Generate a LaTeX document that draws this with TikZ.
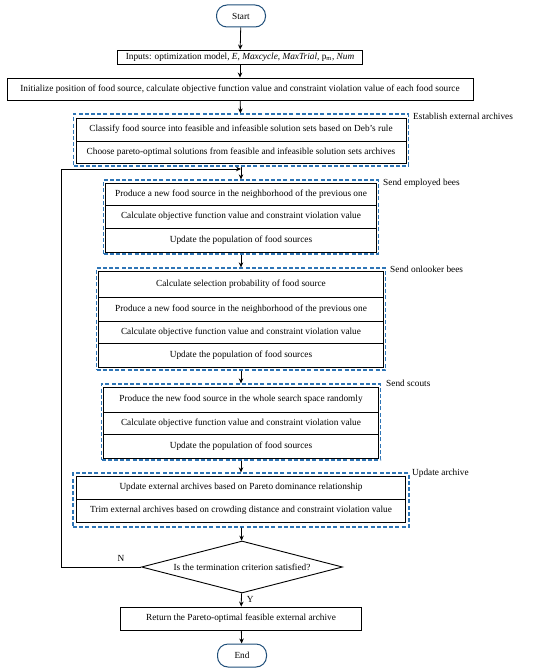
\documentclass[tikz,border=0pt]{standalone}
\usepackage{fontspec}
\setmainfont{Liberation Serif}
\usetikzlibrary{shapes.geometric,arrows.meta}
\definecolor{termblue}{HTML}{1F4E79}
\definecolor{dashblue}{HTML}{2E75B6}
\begin{document}
\begin{tikzpicture}[x=1pt,y=-1pt,
  every node/.style={font=\fontsize{9.3}{11}\selectfont, inner sep=0pt},
  rowbox/.style={draw=black, line width=0.9pt, rectangle, align=center},
  dashbox/.style={draw=dashblue, line width=1.25pt, dash pattern=on 4pt off 2.2pt, rectangle},
  term/.style={draw=termblue, line width=1pt, rectangle, rounded corners=10.5pt, minimum width=49pt, minimum height=22pt},
  grp/.style={anchor=west},
  arr/.style={line width=0.8pt, -{Stealth[length=5pt,width=4.5pt]}},
  ln/.style={line width=0.8pt}
]
\useasboundingbox (0,0) rectangle (550,671);
\node[term] (start) at (241,16) {Start};
\node[rowbox, minimum width=245pt, minimum height=14pt] (inp) at (240,57) {Inputs: optimization model, \textit{E}, \textit{Maxcycle}, \textit{MaxTrial}, p\textsubscript{m}, \textit{Num}};
\node[rowbox, minimum width=466pt, minimum height=22pt] (init) at (240,89) {Initialize position of food source, calculate objective function value and constraint violation value of each food source};

% Establish external archives
\node[dashbox, minimum width=335pt, minimum height=52pt] (ea) at (241,140) {};
\node[rowbox, minimum width=330pt, minimum height=23pt] (ea1) at (241,129.5) {Classify food source into feasible and infeasible solution sets based on Deb’s rule};
\node[rowbox, minimum width=330pt, minimum height=22pt] (ea2) at (241,152) {Choose pareto-optimal solutions from feasible and infeasible solution sets archives};
\node[grp] (eal) at (413,116) {Establish external archives};

% Employed bees
\node[dashbox, minimum width=275pt, minimum height=74pt] (emp) at (241,217) {};
\node[rowbox, minimum width=271pt, minimum height=22pt] (emp1) at (241,194) {Produce a new food source in the neighborhood of the previous one};
\node[rowbox, minimum width=271pt, minimum height=23pt] (emp2) at (241,216.5) {Calculate objective function value and constraint violation value};
\node[rowbox, minimum width=271pt, minimum height=24pt] (emp3) at (241,240) {Update the population of food sources};
\node[grp] (empl) at (383,183) {Send employed bees};

% Onlooker bees
\node[dashbox, minimum width=289pt, minimum height=102pt] (onl) at (241,319) {};
\node[rowbox, minimum width=285pt, minimum height=26pt] (onl1) at (241,284) {Calculate selection probability of food source};
\node[rowbox, minimum width=285pt, minimum height=24pt] (onl2) at (241,309) {Produce a new food source in the neighborhood of the previous one};
\node[rowbox, minimum width=285pt, minimum height=22pt] (onl3) at (241,332) {Calculate objective function value and constraint violation value};
\node[rowbox, minimum width=285pt, minimum height=24pt] (onl4) at (241,355) {Update the population of food sources};
\node[grp] (onll) at (390,269) {Send onlooker bees};

% Scouts
\node[dashbox, minimum width=279pt, minimum height=76pt] (sc) at (241,422) {};
\node[rowbox, minimum width=275pt, minimum height=25pt] (sc1) at (241,399.5) {Produce the new food source in the whole search space randomly};
\node[rowbox, minimum width=275pt, minimum height=22pt] (sc2) at (241,423) {Calculate objective function value and constraint violation value};
\node[rowbox, minimum width=275pt, minimum height=24pt] (sc3) at (241,446) {Update the population of food sources};
\node[grp] (scl) at (386,383) {Send scouts};

% Update archive
\node[dashbox, minimum width=336pt, minimum height=54pt] (ua) at (241,500) {};
\node[rowbox, minimum width=329pt, minimum height=23pt] (ua1) at (241,487.5) {Update external archives based on Pareto dominance relationship};
\node[rowbox, minimum width=329pt, minimum height=23pt] (ua2) at (241,510.5) {Trim external archives based on crowding distance and constraint violation value};
\node[grp] (ual) at (412,473) {Update archive};

% Decision
\node[draw=black, line width=0.9pt, diamond, shape aspect=3.87, minimum width=201pt, minimum height=52pt] (dec) at (242,567) {Is the termination criterion satisfied?};
\node[rowbox, minimum width=241pt, minimum height=23pt] (ret) at (241,618.5) {Return the Pareto-optimal feasible external archive};
\node[term, minimum height=23pt] (end) at (242,655.5) {End};

\coordinate (join) at (241,169);
\coordinate (lc) at (61,567);

\draw[arr] (start) -- (inp);
\draw[arr] (inp) -- (init);
\draw[arr] (init) -- (ea);
\draw[arr] (ea) -- (emp);
\draw[arr] (emp) -- (onl);
\draw[arr] (onl) -- (sc);
\draw[arr] (sc) -- (ua);
\draw[arr] (ua) -- (dec);
\draw[arr] (dec) -- node[right=5pt, pos=0.5] (ylab) {Y} (ret);
\draw[arr] (ret) -- (end);
\draw[arr] (dec.west) -- (lc) |- (join);
\node (nlab) at (121,558) {N};
\end{tikzpicture}
\end{document}
